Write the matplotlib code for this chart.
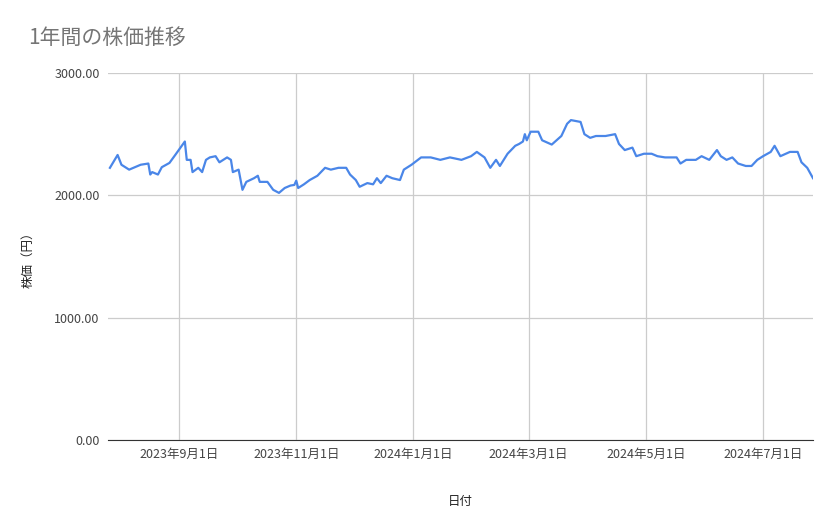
import matplotlib
matplotlib.use("Agg")
import matplotlib.pyplot as plt
import matplotlib.dates as mdates
import pandas as pd

plt.rcParams['font.family'] = ['Noto Sans CJK JP', 'DejaVu Sans']

start_date = "2023-07-26"
end_date = "2024-07-27"
day_offsets = [1,5,7,11,17,21,22,23,26,28,32,35,40,41,43,44,47,49,51,53,56,58,62,64,65,68,70,72,76,78,79,83,86,89,92,95,97,98,99,102,105,109,113,116,120,124,126,129,131,135,138,140,142,145,148,152,154,158,163,168,173,178,184,189,192,196,199,202,204,208,212,214,216,217,218,220,224,226,231,236,239,241,246,248,251,254,259,264,266,269,273,275,279,283,286,290,296,298,301,306,309,313,315,317,319,322,325,328,332,335,338,341,345,347,350,355,359,361,364,367]
prices = [2225,2330,2250,2210,2250,2260,2170,2190,2170,2230,2265,2330,2440,2290,2290,2190,2225,2190,2290,2310,2320,2270,2310,2290,2190,2210,2045,2110,2140,2160,2110,2110,2045,2020,2060,2080,2085,2120,2060,2090,2125,2160,2225,2210,2225,2225,2170,2125,2070,2100,2090,2140,2100,2160,2140,2125,2210,2250,2310,2310,2290,2310,2290,2320,2355,2310,2225,2290,2240,2340,2405,2420,2440,2500,2450,2520,2520,2450,2415,2485,2585,2615,2600,2500,2470,2485,2485,2500,2420,2370,2390,2320,2340,2340,2320,2310,2310,2260,2290,2290,2320,2290,2330,2370,2320,2290,2310,2260,2240,2240,2290,2320,2355,2405,2320,2355,2355,2270,2225,2140]
tick_dates = ["2023-09-01","2023-11-01","2024-01-01","2024-03-01","2024-05-01","2024-07-01"]
tick_labels = ["2023年9月1日","2023年11月1日","2024年1月1日","2024年3月1日","2024年5月1日","2024年7月1日"]
y_ticks = [0, 1000, 2000, 3000]

dates = pd.Timestamp(start_date) + pd.to_timedelta(day_offsets, unit="D")

fig = plt.figure(figsize=(8.39, 5.19), dpi=100)
ax = fig.add_axes([108/839, 1-440/519, (813-108)/839, (440-73)/519])
ax.plot(dates, prices, color="#4a86e8", lw=1.6)
ax.set_xlim(pd.Timestamp(start_date), pd.Timestamp(end_date))
ax.set_ylim(0, 3000)
ax.set_yticks(y_ticks)
ax.set_yticklabels([f"{v:.2f}" for v in y_ticks])
ax.set_xticks(pd.to_datetime(tick_dates))
ax.set_xticklabels(tick_labels)
ax.grid(True, color="#cccccc", lw=0.9)
ax.set_axisbelow(True)
for s in ["top", "right", "left"]:
    ax.spines[s].set_visible(False)
ax.spines["bottom"].set_color("#333333")
ax.tick_params(length=0, labelsize=9, colors="#444444", pad=6)
ax.set_xlabel("日付", fontsize=9, color="#222222", labelpad=24)
ax.set_ylabel("株価（円）", fontsize=9, color="#222222", labelpad=14)
fig.text(28/839, 1-38/519, "1年間の株価推移", fontsize=15, color="#757575", va="center")
fig.savefig("out.png", dpi=100)
